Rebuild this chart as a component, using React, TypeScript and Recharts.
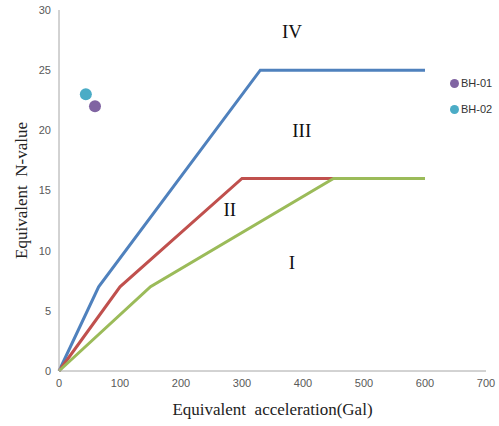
import React from 'react';
import {
  ComposedChart,
  Line,
  Scatter,
  XAxis,
  YAxis,
  Legend,
  ReferenceDot,
} from 'recharts';

// boundary lines between zones (x = acceleration in Gal, y = N-value)
const upperX = [0, 65, 330, 600];
const upperY = [0, 7, 25, 25];
const middleX = [0, 100, 300, 450];
const middleY = [0, 7, 16, 16];
const lowerX = [0, 150, 450, 600];
const lowerY = [0, 7, 16, 16];

// boreholes
const boreholes = ['BH-01', 'BH-02'];
const boreholeX = [59, 44];
const boreholeY = [22, 23];
const boreholeColors = ['#8064A2', '#4BACC6'];

// zone labels
const zoneNames = ['IV', 'III', 'II', 'I'];
const zoneX = [382, 398, 280, 382];
const zoneY = [28.2, 20, 13.4, 9];

const xTicks = [0, 100, 200, 300, 400, 500, 600, 700];
const yTicks = [0, 5, 10, 15, 20, 25, 30];

const toPoints = (xs: number[], ys: number[]) => xs.map((x, i) => ({ x, y: ys[i] }));

const tickStyle = { fontSize: 11, fontFamily: 'Liberation Sans', fill: '#595959' };
const titleFont = 'Liberation Serif';

const Dot = (color: string) => (props: any) => (
  <circle cx={props.cx} cy={props.cy} r={6} fill={color} />
);

const renderLegend = () => (
  <div style={{ fontFamily: 'Liberation Sans', fontSize: 11, color: '#333' }}>
    {boreholes.map((name, i) => (
      <div key={name} style={{ display: 'flex', alignItems: 'center', height: 26 }}>
        <span
          style={{
            width: 9,
            height: 9,
            borderRadius: '50%',
            background: boreholeColors[i],
            display: 'inline-block',
            marginRight: 2,
          }}
        />
        {name}
      </div>
    ))}
  </div>
);

export default function App() {
  return (
    <div style={{ position: 'absolute', left: 0, top: 0 }}>
      <ComposedChart width={499} height={426} margin={{ top: 10, right: 13, bottom: 25, left: 0 }}>
        <XAxis
          type="number"
          dataKey="x"
          domain={[0, 700]}
          ticks={xTicks}
          height={30}
          tick={tickStyle}
          tickLine={false}
          stroke="#A6A6A6"
          label={{
            value: 'Equivalent\u00A0\u00A0acceleration(Gal)',
            position: 'bottom',
            offset: 2,
            style: { fontFamily: titleFont, fontSize: 17, fill: '#222' },
          }}
        />
        <YAxis
          type="number"
          dataKey="y"
          domain={[0, 30]}
          ticks={yTicks}
          width={59}
          tick={tickStyle}
          tickLine={false}
          stroke="#A6A6A6"
          label={{
            value: 'Equivalent\u00A0\u00A0N-value',
            angle: -90,
            position: 'center',
            dx: -9,
            style: { fontFamily: titleFont, fontSize: 17, fill: '#222', textAnchor: 'middle' },
          }}
        />
        <Legend
          layout="vertical"
          align="center"
          verticalAlign="middle"
          content={renderLegend}
          wrapperStyle={{ left: 450, top: 70, width: 49 }}
        />
        <Line data={toPoints(upperX, upperY)} dataKey="y" stroke="#4F81BD" strokeWidth={3} dot={false} legendType="none" isAnimationActive={false} />
        <Line data={toPoints(middleX, middleY)} dataKey="y" stroke="#C0504D" strokeWidth={3} dot={false} legendType="none" isAnimationActive={false} />
        <Line data={toPoints(lowerX, lowerY)} dataKey="y" stroke="#9BBB59" strokeWidth={3} dot={false} legendType="none" isAnimationActive={false} />
        {boreholes.map((name, i) => (
          <Scatter
            key={name}
            name={name}
            data={[{ x: boreholeX[i], y: boreholeY[i] }]}
            fill={boreholeColors[i]}
            shape={Dot(boreholeColors[i])}
            isAnimationActive={false}
          />
        ))}
        {zoneNames.map((z, i) => (
          <ReferenceDot
            key={z}
            x={zoneX[i]}
            y={zoneY[i]}
            r={0}
            fill="none"
            stroke="none"
            label={{ value: z, position: 'center', style: { fontFamily: titleFont, fontSize: 19, fill: '#111' } }}
          />
        ))}
      </ComposedChart>
    </div>
  );
}
